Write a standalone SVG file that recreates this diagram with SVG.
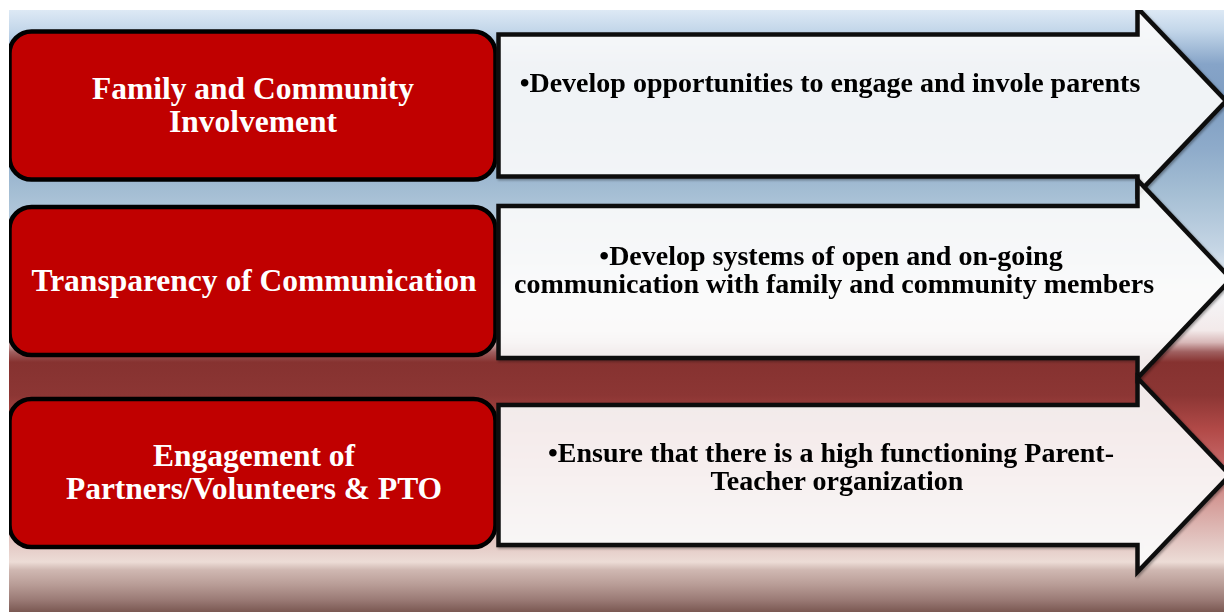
<svg xmlns="http://www.w3.org/2000/svg" width="1224" height="613" viewBox="0 0 1224 613">
  <defs>
    <linearGradient id="bg" x1="0" y1="10" x2="0" y2="612" gradientUnits="userSpaceOnUse">
      <stop offset="0" stop-color="#dde9f5"/>
      <stop offset="0.033" stop-color="#c4d7ea"/>
      <stop offset="0.09" stop-color="#86a4c8"/>
      <stop offset="0.15" stop-color="#7e9dc2"/>
      <stop offset="0.23" stop-color="#8eabca"/>
      <stop offset="0.299" stop-color="#a3bdd3"/>
      <stop offset="0.399" stop-color="#c6d6e5"/>
      <stop offset="0.465" stop-color="#f5f7fa"/>
      <stop offset="0.532" stop-color="#f3eaea"/>
      <stop offset="0.552" stop-color="#d8b8b8"/>
      <stop offset="0.568" stop-color="#a06060"/>
      <stop offset="0.585" stop-color="#863230"/>
      <stop offset="0.64" stop-color="#8c3634"/>
      <stop offset="0.698" stop-color="#b24a48"/>
      <stop offset="0.748" stop-color="#c46464"/>
      <stop offset="0.814" stop-color="#d49a96"/>
      <stop offset="0.88" stop-color="#e2c4c0"/>
      <stop offset="0.917" stop-color="#ecdcd6"/>
      <stop offset="0.93" stop-color="#d0b8b2"/>
      <stop offset="0.955" stop-color="#b89c96"/>
      <stop offset="0.98" stop-color="#9a7a75"/>
      <stop offset="1" stop-color="#7a5852"/>
    </linearGradient>
    <clipPath id="area">
      <rect x="9" y="10" width="1215" height="602"/>
    </clipPath>
    <filter id="sh" x="-5%" y="-5%" width="110%" height="110%">
      <feDropShadow dx="1.5" dy="1.5" stdDeviation="1.2" flood-color="#000" flood-opacity="0.35"/>
    </filter>
  </defs>
  <style>
    .box { fill: #c00000; stroke: #000; stroke-width: 4.5; }
    .arrow { fill: #ffffff; fill-opacity: 0.88; stroke: #111; stroke-width: 4.5; stroke-linejoin: miter; }
    .bt { font-family: "Liberation Serif", "Times New Roman", serif; font-weight: bold; font-size: 31.5px; fill: #ffffff; text-anchor: middle; }
    .at { font-family: "Liberation Serif", "Times New Roman", serif; font-weight: bold; font-size: 28px; fill: #000000; text-anchor: middle; }
  </style>
  <rect x="9" y="10" width="1215" height="602" fill="url(#bg)"/>
  <g clip-path="url(#area)">
    <g id="row1-box">
      <rect class="box" x="9.5" y="31.5" width="486" height="148" rx="22" ry="22"/>
      <text class="bt" x="253" y="99">Family and Community</text>
      <text class="bt" x="253" y="132">Involvement</text>
    </g>
    <g id="row2-box">
      <rect class="box" x="9.5" y="207" width="486" height="148" rx="22" ry="22"/>
      <text class="bt" x="254" y="291">Transparency of Communication</text>
    </g>
    <g id="row3-box">
      <rect class="box" x="9.5" y="399" width="486" height="148" rx="22" ry="22"/>
      <text class="bt" x="254" y="466">Engagement of</text>
      <text class="bt" x="254" y="499">Partners/Volunteers &amp; PTO</text>
    </g>
    <g id="row1-arrow" filter="url(#sh)">
      <path class="arrow" d="M498.5,34.5 H1137.5 V8 L1226,101 L1137.5,194 V176.5 H498.5 Z"/>
      <text class="at" x="830" y="92">•Develop opportunities to engage and invole parents</text>
    </g>
    <g id="row2-arrow" filter="url(#sh)">
      <path class="arrow" d="M498.5,206 H1137.5 V180 L1231,279 L1137.5,378 V358 H498.5 Z"/>
      <text class="at" x="831" y="265">•Develop systems of open and on-going</text>
      <text class="at" x="834" y="293">communication with family and community members</text>
    </g>
    <g id="row3-arrow" filter="url(#sh)">
      <path class="arrow" d="M498.5,405 H1137.5 V378 L1230,475 L1137.5,572 V545 H498.5 Z"/>
      <text class="at" x="831" y="462">•Ensure that there is a high functioning Parent-</text>
      <text class="at" x="837" y="490">Teacher organization</text>
    </g>
  </g>
</svg>
